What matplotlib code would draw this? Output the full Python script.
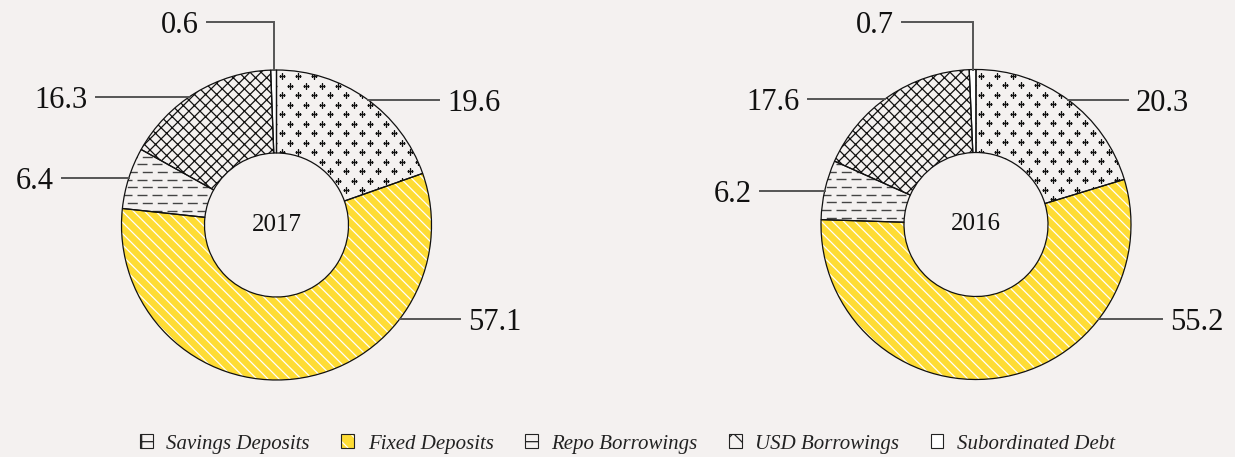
import numpy as np
import matplotlib
matplotlib.use("Agg")
import matplotlib.pyplot as plt
from matplotlib.patches import Patch, Wedge
from matplotlib.legend_handler import HandlerTuple

# ---- data -------------------------------------------------------------
categories = ["Savings Deposits", "Fixed Deposits", "Repo Borrowings",
              "USD Borrowings", "Subordinated Debt"]
years = ["2017", "2016"]
values_2017 = [19.6, 57.1, 6.4, 16.3, 0.6]
values_2016 = [20.3, 55.2, 6.2, 17.6, 0.7]

# ---- style ------------------------------------------------------------
plt.rcParams["font.family"] = ["Liberation Serif", "DejaVu Serif"]
plt.rcParams["hatch.linewidth"] = 0.9
plt.rcParams["lines.scale_dashes"] = False

W, H = 1235, 457
BG = "#f4f1f0"
YELLOW = "#fedc34"
INK = "#111111"
LEADER = "#555555"
R_OUT, R_IN = 155.0, 72.0


def Y(y_down):
    """Convert a top-down pixel row to the axes' upward y coordinate."""
    return H - y_down


fig = plt.figure(figsize=(W / 100, H / 100), dpi=100, facecolor=BG)
ax = fig.add_axes([0, 0, 1, 1])
ax.set_facecolor(BG)


def plus_pattern(wedge, cx, cy):
    ys = np.arange(cy - R_OUT, cy + R_OUT, 9.5)
    px, py = [], []
    for i, yy in enumerate(ys):
        xs = np.arange(cx - R_OUT + (i % 2) * 8.0, cx + R_OUT, 16.0)
        px.extend(xs)
        py.extend([yy] * len(xs))
    sc = ax.scatter(px, py, marker="+", s=20, linewidths=1.0, color=INK, zorder=3)
    sc.set_clip_path(wedge)


def dash_pattern(wedge, cx, cy):
    for i, yy in enumerate(np.arange(cy - R_OUT, cy + R_OUT, 7.7)):
        ln, = ax.plot([cx - R_OUT, cx + R_OUT], [yy, yy], color="#444444",
                      lw=1.0, ls=((i % 2) * 7.0, (7.2, 3.6)), zorder=3)
        ln.set_clip_path(wedge)


def draw_donut(values, year, cx, cy_down, layout):
    cy = Y(cy_down)
    wedges, _ = ax.pie(values, radius=R_OUT, center=(cx, cy), startangle=90,
                       counterclock=False, frame=True,
                       wedgeprops=dict(width=R_OUT - R_IN, linewidth=0))
    sav, fix, repo, usd, sub = wedges
    sav.set_facecolor(BG)
    fix.set_facecolor(YELLOW)
    fix.set_edgecolor("white")
    fix.set_hatch("\\\\\\")
    repo.set_facecolor(BG)
    usd.set_facecolor(BG)
    usd.set_edgecolor(INK)
    usd.set_hatch("xxx")
    sub.set_facecolor("white")
    plus_pattern(sav, cx, cy)
    dash_pattern(repo, cx, cy)

    # black outlines of every slice
    for w in wedges:
        ax.add_patch(Wedge(w.center, w.r, w.theta1, w.theta2, width=w.width,
                           fill=False, edgecolor=INK, lw=0.9, zorder=4))

    # leader lines and value labels
    for w, v, (ly_down, x_end, elbow) in zip(wedges, values, layout):
        ly = Y(ly_down)
        side = 1 if x_end > cx else -1
        if elbow:
            mid = np.deg2rad((w.theta1 + w.theta2) / 2)
            x0 = cx + R_OUT * np.cos(mid)
            y0 = cy + R_OUT * np.sin(mid)
            ax.plot([x0, x0, x_end], [y0, ly, ly], color=LEADER, lw=1.4,
                    solid_joinstyle="miter", zorder=5)
        else:
            x0 = cx + side * np.sqrt(R_OUT ** 2 - (ly - cy) ** 2)
            ax.plot([x0, x_end], [ly, ly], color=LEADER, lw=1.4, zorder=5)
        ax.text(x_end + side * 8, ly, f"{v:.1f}", fontsize=22, color=INK,
                ha="left" if side > 0 else "right", va="center_baseline",
                zorder=6)

    ax.text(cx, cy, year, fontsize=18, color=INK, ha="center", va="center",
            zorder=6)


# label row (pixels from top), outer end of the leader line, elbow flag
layout_2017 = [(100, 439, False), (319, 460, False), (178, 62, False),
               (97, 96, False), (22, 207, True)]
layout_2016 = [(100, 1128, False), (319, 1162, False), (191, 760, False),
               (99, 808, False), (22, 902, True)]

draw_donut(values_2017, years[0], 276.5, 225, layout_2017)
draw_donut(values_2016, years[1], 976, 224.5, layout_2016)

ax.set_xlim(0, W)
ax.set_ylim(0, H)
ax.set_aspect("equal")
ax.axis("off")

# ---- legend -----------------------------------------------------------
handles = [
    Patch(facecolor=BG, edgecolor="#222222", hatch="+", lw=0.8),
    (Patch(facecolor=YELLOW, edgecolor="white", hatch="\\\\", lw=0),
     Patch(fill=False, edgecolor="#222222", lw=0.8)),
    Patch(facecolor=BG, edgecolor="#222222", hatch="-", lw=0.8),
    Patch(facecolor=BG, edgecolor="#222222", hatch="x", lw=0.8),
    Patch(facecolor="white", edgecolor="#222222", lw=0.8),
]
fig.legend(handles, categories, loc="center",
           bbox_to_anchor=(627.5 / W, 1 - 444 / H), ncol=5, frameon=False,
           prop=dict(family=["Liberation Serif", "DejaVu Serif"],
                     style="italic", size=15),
           labelcolor="#222222", handlelength=0.62, handleheight=0.62,
           handletextpad=0.65, columnspacing=1.5,
           handler_map={tuple: HandlerTuple(ndivide=1, pad=0)})

fig.savefig("out.png", dpi=100, facecolor=BG)
